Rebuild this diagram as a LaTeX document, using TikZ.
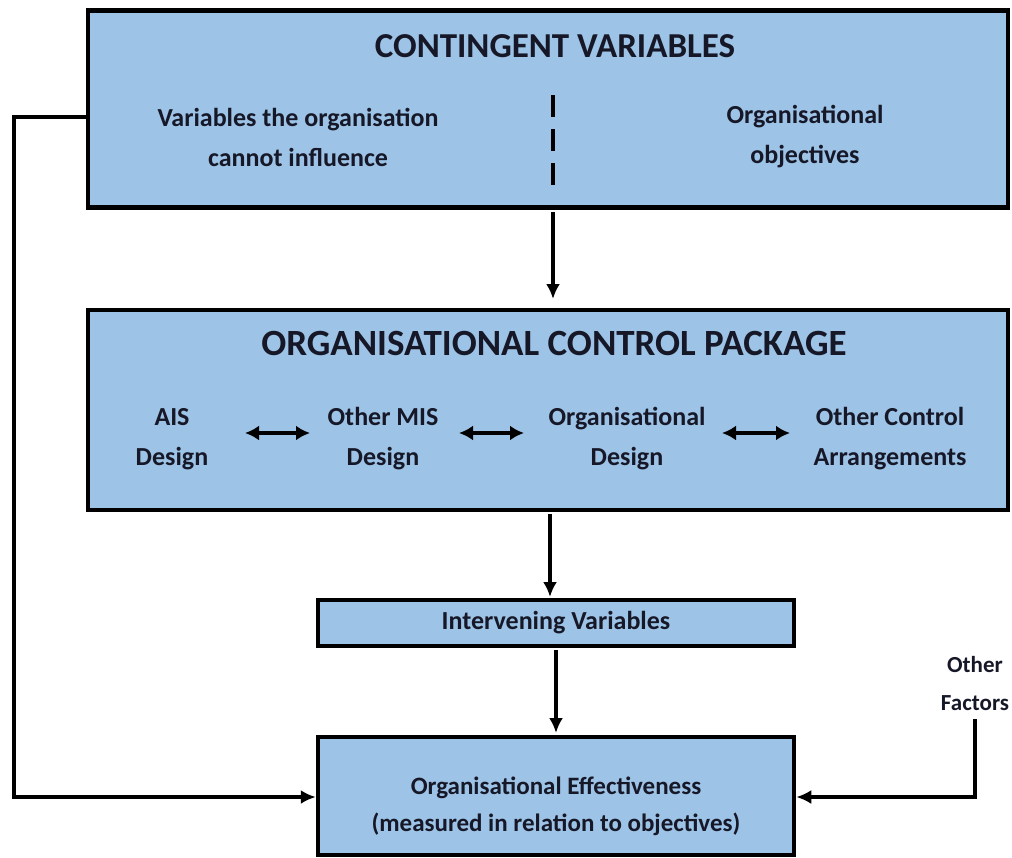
\documentclass[tikz,border=0pt]{standalone}
\usepackage{fontspec}
\setmainfont{Carlito}
\usetikzlibrary{arrows.meta}
\definecolor{boxblue}{RGB}{157,195,230}
\definecolor{ink}{RGB}{22,24,40}
\tikzset{
  panel/.style={draw=black, line width=4.5pt, fill=boxblue, inner sep=0pt},
  lbl/.style={text=ink, align=center, inner sep=0pt, font=\bfseries\fontsize{26}{40}\selectfont},
  title/.style={text=ink, align=center, inner sep=0pt, font=\bfseries\fontsize{35}{40}\selectfont},
  conn/.style={line width=3.5pt, -{Latex[length=15pt,width=14pt]}},
  dbl/.style={line width=3.8pt, {Latex[length=14pt,width=15pt]}-{Latex[length=14pt,width=15pt]}},
}
\begin{document}
\begin{tikzpicture}[x=1pt,y=-1pt]
\useasboundingbox (0,0) rectangle (1012,857);
\fill[white] (0,0) rectangle (1012,857);

% contingent variables
\node[panel, minimum width=920pt, minimum height=197pt] (cv) at (548,109) {};
\node[title] (cvt) at (555,46) {CONTINGENT VARIABLES};
\node[lbl] (cvl) at (298,137) {Variables the organisation\\cannot influence};
\node[lbl] (cvr) at (805,137) {Organisational\\objectives};
\draw[line width=3.5pt, dash pattern=on 22pt off 12pt] (553,95) -- (553,192);

% control package
\node[panel, minimum width=920pt, minimum height=200pt] (ocp) at (548,410) {};
\node[title, font=\bfseries\fontsize{37}{40}\selectfont] (ocpt) at (554,343) {ORGANISATIONAL CONTROL PACKAGE};
\node[lbl] (ais) at (172,439) {AIS\\Design};
\node[lbl] (mis) at (383,439) {Other MIS\\Design};
\node[lbl] (od) at (627,439) {Organisational\\Design};
\node[lbl] (oca) at (890,439) {Other Control\\Arrangements};
\draw[dbl] (245,433) -- (310,433);
\draw[dbl] (459,433) -- (524,433);
\draw[dbl] (722,433) -- (790,433);

% intervening variables
\node[panel, minimum width=476pt, minimum height=46pt] (iv) at (556,623) {};
\node[lbl] at (iv.center) {Intervening Variables};

% effectiveness
\node[panel, minimum width=476pt, minimum height=118pt] (oe) at (556,796) {};
\node[lbl, font=\bfseries\fontsize{25}{37}\selectfont] at ([yshift=-10pt]oe.center) {Organisational Effectiveness\\(measured in relation to objectives)};

% other factors
\node[lbl, font=\bfseries\fontsize{23}{38}\selectfont] (of) at (975,684) {Other\\Factors};

% connectors
\draw[conn] (553,212) -- (553,299);
\draw[conn] (550,514) -- (550,597);
\draw[conn] (556,650) -- (556,733);
\draw[conn] ([yshift=-8pt]cv.west) -| (14,797) -- (oe.west |- 0,797);
\draw[conn] ([yshift=-8pt]of.south) |- (oe.east |- 0,797);
\end{tikzpicture}
\end{document}
